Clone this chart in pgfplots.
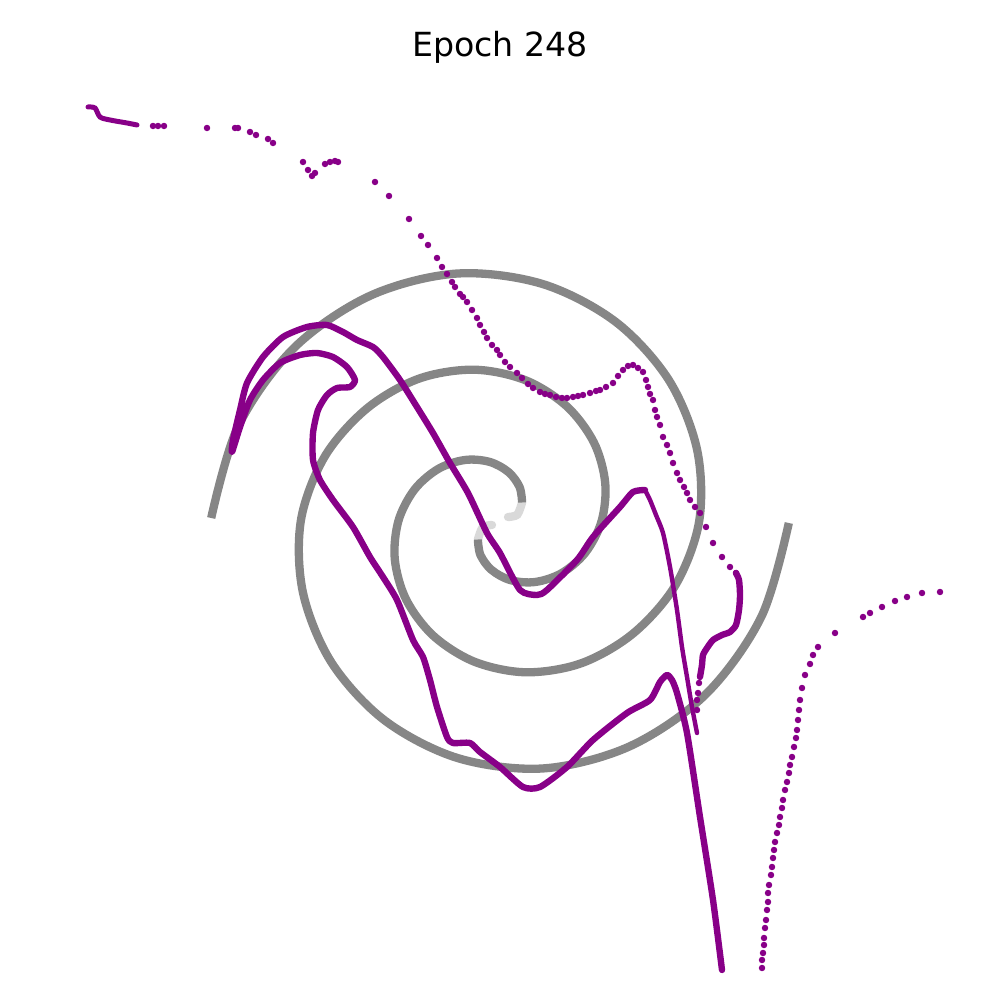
\documentclass[border=0pt]{standalone}
\usepackage{pgfplots}
\pgfplotsset{compat=1.18}
\usepackage{fontspec}
\setmainfont{DejaVu Sans}
\definecolor{pur}{RGB}{136,0,136}
\definecolor{spir}{RGB}{128,128,128}
\begin{document}
\begin{tikzpicture}
\begin{axis}[
  scale only axis, width=5in, height=5in,
  xmin=0, xmax=1000, ymin=0, ymax=1000,
  axis line style={draw=none}, ticks=none,
  title={Epoch 248},
  title style={at={(0.5,0.927)}, anchor=base, inner sep=0pt, font=\fontsize{12}{14}\selectfont},
]
\path (rel axis cs:0,0) rectangle (rel axis cs:1,1);
% spiral arms (data)
\addplot[spir, opacity=0.3, line width=3pt, smooth, line cap=round] coordinates {(508,483)(517.3,485.3)(522.1,497.5)};
\addplot[spir, opacity=0.95, line width=3pt, smooth, tension=0.55] coordinates {
(522.1,497.5)(519.6,512.9)(508.6,527.8)(489.6,538.1)(464.8,540.0)(438.1,531.0)(414.3,510.2)(398.4,479.0)(394.8,440.7)(406.2,400.3)(433.6,364.0)(475.1,338.0)(526.7,327.7)(582.0,337.0)(633.6,366.9)(675.6,415.1)(699.2,479.0)(697.0,550.7)(668.5,620.5)(615.2,678.5)(541.9,716.2)(456.3,726.4)(370.0,704.2)(293.9,652.0)(238.4,574.2)(211.2,482.0)};
\addplot[spir, opacity=0.3, line width=3pt, smooth, line cap=round] coordinates {(492,475)(482.7,472.7)(477.9,460.5)};
\addplot[spir, opacity=0.95, line width=3pt, smooth, tension=0.55] coordinates {
(477.9,460.5)(480.4,445.1)(491.4,430.2)(510.4,419.9)(535.2,418.0)(561.9,427.0)(585.7,447.8)(601.6,479.0)(605.2,517.3)(593.8,557.7)(566.4,594.0)(524.9,620.0)(473.3,630.3)(418.0,621.0)(366.4,591.1)(324.4,542.9)(300.8,479.0)(303.0,407.3)(331.5,337.5)(384.8,279.5)(458.1,241.8)(543.7,231.6)(630.0,253.8)(706.1,306.0)(761.6,383.8)(788.8,477.0)};
% main dense model curve
\addplot[pur, line width=2.3pt, smooth, tension=0.4, line join=round, line cap=round] coordinates {
(722,30)(713,100)(700,183)(687,267)(677,307)(672,320)(667,325)(660,318)(650,300)(627,287)(593,260)(567,233)(540,213)(523,213)(500,233)(480,248)(470,257)(453,257)(447,263)(437,293)(430,320)(423,343)(413,360)(397,400)(383,423)(370,443)(353,473)(333,500)(320,520)(313,540)(313,567)(318,590)(327,605)(337,612)(350,613)(355,620)(347,633)(333,643)(317,647)(300,645)(280,637)(263,620)(250,600)(240,573)(232,548)(233,560)(240,590)(247,617)(263,643)(283,663)(307,673)(327,675)(343,668)(357,660)(373,653)(383,643)(400,620)(417,593)(433,567)(450,537)(468,507)(487,467)(500,447)(520,410)(537,405)(547,410)(577,440)(593,463)(620,493)(633,508)(645,510)};
\addplot[pur, line width=1.6pt, smooth, tension=0.4, line cap=round] coordinates {
(645,510)(650,500)(656,485)(663,467)(670,433)(677,390)(682,353)(687,323)(692,293)(697,267)};
% right thick bump
\addplot[pur, line width=2.3pt, smooth, tension=0.4, line cap=round] coordinates {
(736,427)(739,420)(740,405)(739,390)(736,375)(730,368)(722,365)(713,360)(707,352)(703,345)(702,335)(700,323)};
% upper-left dense start
\addplot[pur, line width=1.8pt, smooth, line cap=round] coordinates {
(88,893)(95,892)(100,883)(110,880)(127,877)(137,875)};
% sparse dots
\addplot[pur, only marks, mark=*, mark size=0.95pt, mark options={pur}] coordinates {
(153,874)(158,874)(164,874)(207,872)(235,872)(238,872)(250,868)(256,865)(268,861)(273,857)(303,838)(308,830)(312,824)(315,827)(325,836)(330,838)(335,839)(338,838)(375,818)(389,804)(409,781)(421,764)(428,755)(437,742)(442,733)(447,726)(452,718)(455,713)(460,706)(463,703)(467,698)(472,690)(477,682)(480,675)(484,668)(487,662)(492,655)(497,650)(500,645)(505,638)(510,633)(517,627)(522,622)(528,616)(533,612)(540,608)(545,606)(550,605)(556,603)(562,602)(567,602)(573,603)(578,604)(583,605)(590,607)(596,609)(600,610)(606,613)(613,617)(618,624)(623,630)(628,634)(633,635)(638,632)(643,628)(646,620)(648,613)(650,606)(653,600)(655,590)(657,583)(660,575)(663,563)(667,555)(670,547)(673,537)(677,527)(680,520)(684,513)(687,507)(690,500)(695,493)(700,487)(706,473)(713,457)(722,443)(730,433)(736,427)
(699,317)(698,307)(697,300)(697,290)
(940,408)(922,407)(907,403)(895,399)(882,393)(870,387)(863,383)(835,367)(818,353)(813,345)(810,336)(805,325)(802,312)(800,300)(799,290)(798,280)(797,270)(796,262)(794,253)(792,243)(790,235)(789,227)(787,218)(785,210)(783,200)(782,192)(780,183)(779,175)(777,167)(775,158)(774,150)(773,142)(772,133)(771,125)(769,115)(768,107)(768,98)(767,90)(766,80)(765,72)(764,62)(764,55)(763,47)(762,40)(762,32)};
\end{axis}
\end{tikzpicture}
\end{document}
